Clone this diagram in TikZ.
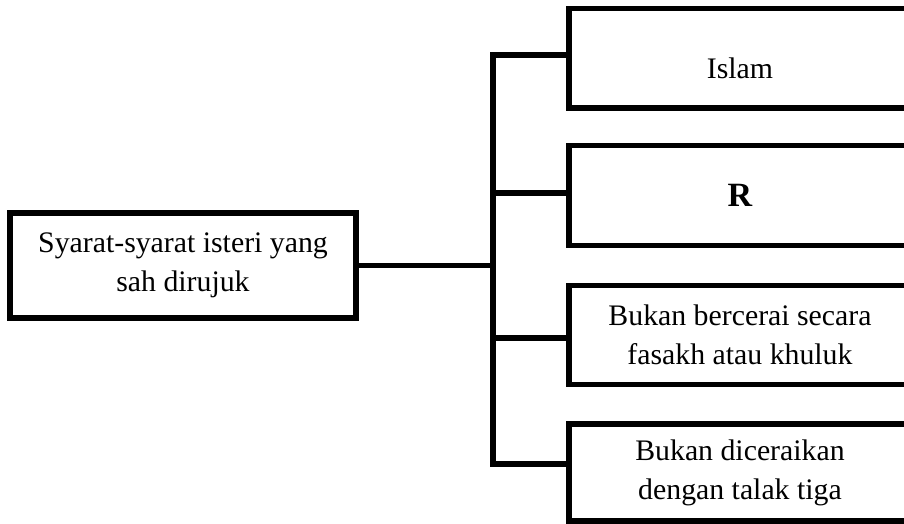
\documentclass[tikz,border=0pt]{standalone}
\usepackage{fontspec}
\setmainfont{Liberation Serif}
\usetikzlibrary{positioning}
\tikzset{
  box/.style={draw, line width=5.5pt, minimum width=342pt, inner sep=0pt,
    align=center, font=\fontsize{29.8}{39}\selectfont},
  link/.style={line width=5.5pt, line join=miter},
}

\begin{document}
\begin{tikzpicture}[x=1pt,y=-1pt]
\useasboundingbox (0,0) rectangle (904,523);
\clip (0,0) rectangle (904,523);

% main box
\node[box, minimum width=346pt, minimum height=105pt] (syarat) at (183,265.5)
  {Syarat-syarat isteri yang\\sah dirujuk};

% conditions
\node[box, minimum height=99.5pt] (islam) at (740,58)
  {\raisebox{-10pt}[\height][\depth]{Islam}};
\node[box, minimum height=100pt] (r) at (740,195.5)
  {\fontsize{34}{40}\selectfont\textbf{R}};
\node[box, minimum height=99pt] (fasakh) at (740,335)
  {Bukan bercerai secara\\fasakh atau khuluk};
\node[box, minimum height=97pt] (talak) at (740,472.5)
  {Bukan diceraikan\\dengan talak tiga};

% branch points
\coordinate (b1) at ([yshift=3pt]islam.west);
\coordinate (b2) at ([yshift=2.5pt]r.west);
\coordinate (b3) at ([yshift=-3pt]fasakh.west);
\coordinate (b4) at ([yshift=8.5pt]talak.west);
\coordinate (trunk) at (493,265);

% tree lines
\draw[link] (syarat.east) -- (syarat.east -| trunk);
\draw[link] (b1) -- (b1 -| trunk) -- (b4 -| trunk) -- (b4);
\draw[link] (b2 -| trunk) -- (b2);
\draw[link] (b3 -| trunk) -- (b3);

\end{tikzpicture}
\end{document}
